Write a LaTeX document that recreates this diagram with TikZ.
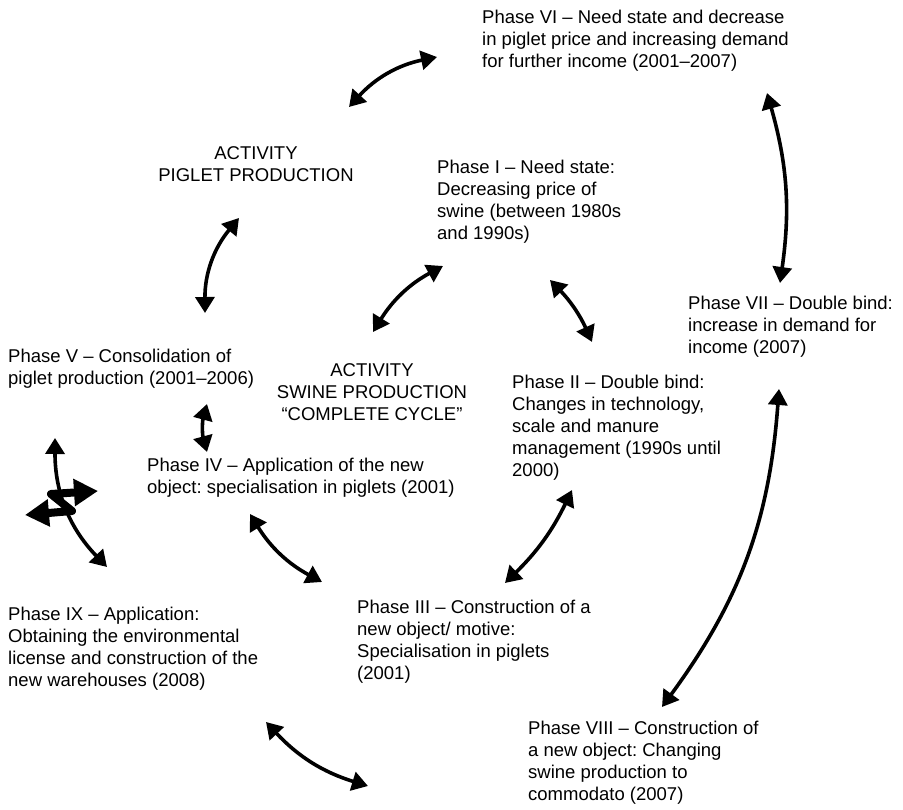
\documentclass[tikz,border=0pt]{standalone}
\usepackage{fontspec}
\setmainfont{Liberation Sans}
\usetikzlibrary{arrows.meta}
\frenchspacing
\begin{document}
\begin{tikzpicture}[x=1pt,y=-1pt,
  phase/.style={anchor=north west, align=left, inner sep=0pt,
    font=\fontsize{18.5}{22}\selectfont},
  activity/.style={anchor=north, align=center, inner sep=0pt,
    font=\fontsize{18.5}{22}\selectfont},
  link/.style={line width=3.6pt,
    {Triangle[length=16pt,width=19pt]}-{Triangle[length=16pt,width=19pt]}},
  twist/.style={line width=8pt, line join=round,
    {Triangle[length=24pt,width=26pt]}-{Triangle[length=24pt,width=26pt]}},
]
\useasboundingbox (0,0) rectangle (903,810);

% text blocks
\node[phase] (p6) at (482,10) {Phase VI – Need state and decrease\\in piglet price and increasing demand\\for further income (2001–2007)};
\node[activity] (piglet) at (256,146) {ACTIVITY\\PIGLET PRODUCTION};
\node[phase] (p1) at (437,160) {Phase I – Need state:\\Decreasing price of\\swine (between 1980s\\and 1990s)};
\node[phase] (p7) at (688,296) {Phase VII – Double bind:\\increase in demand for\\income (2007)};
\node[phase] (p5) at (8,349) {Phase V – Consolidation of\\piglet production (2001–2006)};
\node[activity] (swine) at (372,363) {ACTIVITY\\SWINE PRODUCTION\\“COMPLETE CYCLE”};
\node[phase] (p2) at (512,375) {Phase II – Double bind:\\Changes in technology,\\scale and manure\\management (1990s until\\2000)};
\node[phase] (p4) at (147,458) {Phase IV – Application of the new\\object: specialisation in piglets (2001)};
\node[phase] (p3) at (357,600) {Phase III – Construction of a\\new object/ motive:\\Specialisation in piglets\\(2001)};
\node[phase] (p9) at (8,607) {Phase IX – Application:\\Obtaining the environmental\\license and construction of the\\new warehouses (2008)};
\node[phase] (p8) at (528,721) {Phase VIII – Construction of\\a new object: Changing\\swine production to\\commodato (2007)};

% arrow end points
\coordinate (a6) at (437,57);   \coordinate (aP) at (349,107);
\coordinate (bP) at (239,218);  \coordinate (b5) at (205,313);
\coordinate (c1) at (443,266);  \coordinate (cS) at (373,332);
\coordinate (d1) at (550,280);  \coordinate (d2) at (592,342);
\coordinate (e6) at (767,93);   \coordinate (e7) at (780,283);
\coordinate (f5) at (207,404);  \coordinate (f4) at (207,452);
\coordinate (g4) at (250,514);  \coordinate (g3) at (322,582);
\coordinate (h2) at (572,490);  \coordinate (h3) at (505,583);
\coordinate (i7) at (779,389);  \coordinate (i8) at (662,707);
\coordinate (j9) at (266,722);  \coordinate (j8) at (368,786);
\coordinate (k1) at (55,438);   \coordinate (k2) at (107,567);

% cycle connectors
\draw[link] (aP) to[bend left=18] (a6);
\draw[link] (b5) to[bend left=20] (bP);
\draw[link] (cS) to[bend left=15] (c1);
\draw[link] (d1) to[bend left=10] (d2);
\draw[link] (e6) to[bend left=12] (e7);
\draw[link] (f5) to[bend right=15] (f4);
\draw[link] (g4) to[bend right=15] (g3);
\draw[link] (h2) to[bend left=10] (h3);
\draw[link] (i7) to[bend left=16] (i8);
\draw[link] (j9) to[bend right=15] (j8);
\draw[link] (k1) to[bend right=22] (k2);

% twisted double arrow
\coordinate (t1) at (25,515);
\coordinate (t2) at (98,491);
\draw[twist] (t1) -- (72,511) -- (51,494) -- (t2);
\end{tikzpicture}
\end{document}
